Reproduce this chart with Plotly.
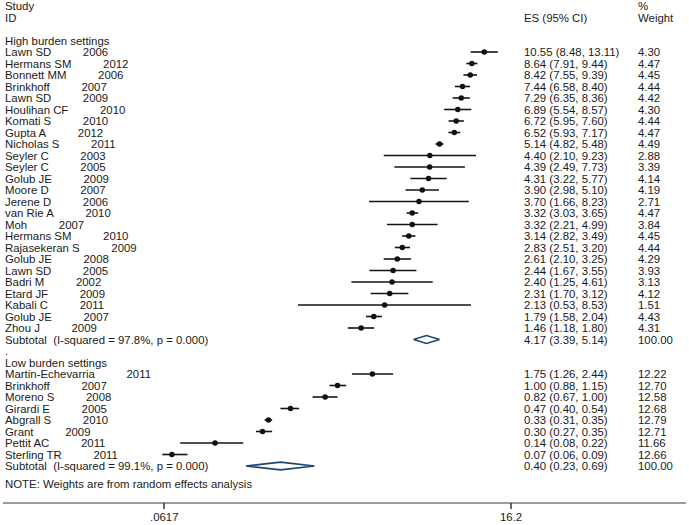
import math
import plotly.graph_objects as go

# ---------------- data ----------------
high_study = ["Lawn SD", "Hermans SM", "Bonnett MM", "Brinkhoff", "Lawn SD", "Houlihan CF",
              "Komati S", "Gupta A", "Nicholas S", "Seyler C", "Seyler C", "Golub JE",
              "Moore D", "Jerene D", "van Rie A", "Moh", "Hermans SM", "Rajasekeran S",
              "Golub JE", "Lawn SD", "Badri M", "Etard JF", "Kabali C", "Golub JE", "Zhou J"]
high_year = [2006, 2012, 2006, 2007, 2009, 2010, 2010, 2012, 2011, 2003, 2005, 2009,
             2007, 2006, 2010, 2007, 2010, 2009, 2008, 2005, 2002, 2009, 2011, 2007, 2009]
high_es = [10.55, 8.64, 8.42, 7.44, 7.29, 6.89, 6.72, 6.52, 5.14, 4.40, 4.39, 4.31,
           3.90, 3.70, 3.32, 3.32, 3.14, 2.83, 2.61, 2.44, 2.40, 2.31, 2.13, 1.79, 1.46]
high_lo = [8.48, 7.91, 7.55, 6.58, 6.35, 5.54, 5.95, 5.93, 4.82, 2.10, 2.49, 3.22,
           2.98, 1.66, 3.03, 2.21, 2.82, 2.51, 2.10, 1.67, 1.25, 1.70, 0.53, 1.58, 1.18]
high_hi = [13.11, 9.44, 9.39, 8.40, 8.36, 8.57, 7.60, 7.17, 5.48, 9.23, 7.73, 5.77,
           5.10, 8.23, 3.65, 4.99, 3.49, 3.20, 3.25, 3.55, 4.61, 3.12, 8.53, 2.04, 1.80]
high_w = [4.30, 4.47, 4.45, 4.44, 4.42, 4.30, 4.44, 4.47, 4.49, 2.88, 3.39, 4.14,
          4.19, 2.71, 4.47, 3.84, 4.45, 4.44, 4.29, 3.93, 3.13, 4.12, 1.51, 4.43, 4.31]
high_sub = {"es": 4.17, "lo": 3.39, "hi": 5.14, "w": 100.00, "i2": "97.8%", "p": "0.000"}

low_study = ["Martin-Echevarria", "Brinkhoff", "Moreno S", "Girardi E", "Abgrall S",
             "Grant", "Pettit AC", "Sterling TR"]
low_year = [2011, 2007, 2008, 2005, 2010, 2009, 2011, 2011]
low_es = [1.75, 1.00, 0.82, 0.47, 0.33, 0.30, 0.14, 0.07]
low_lo = [1.26, 0.88, 0.67, 0.40, 0.31, 0.27, 0.08, 0.06]
low_hi = [2.44, 1.15, 1.00, 0.54, 0.35, 0.35, 0.22, 0.09]
low_w = [12.22, 12.70, 12.58, 12.68, 12.79, 12.71, 11.66, 12.66]
low_sub = {"es": 0.40, "lo": 0.23, "hi": 0.69, "w": 100.00, "i2": "99.1%", "p": "0.000"}

tick_vals = [0.0617, 16.2]
tick_text = [".0617", "16.2"]

# ---------------- layout helpers ----------------
W, H = 689, 525
FONT = "Liberation Sans, Arial, sans-serif"
FS = 11.4
TXT = "#1a1a1a"
NB = "\u00a0"

# pixel geometry
row0_px, row_step = 6.0, 11.5
axis_px = 503.0
ticklab_px = 517.0
tick_px = (164.0, 511.0)
dom_px = (3.0, 686.0)

lv0, lv1 = math.log10(tick_vals[0]), math.log10(tick_vals[1])
ppd = (tick_px[1] - tick_px[0]) / (lv1 - lv0)
xr = [lv0 + (dom_px[0] - tick_px[0]) / ppd, lv0 + (dom_px[1] - tick_px[0]) / ppd]
yr = [(axis_px - row0_px) / row_step, (0 - row0_px) / row_step]


def x_to_paper(v):
    return (dom_px[0] + (math.log10(v) - xr[0]) * ppd) / W


fig = go.Figure()
ann = []


def text(xpx, row, s):
    ann.append(dict(x=xpx / W, xref="paper", y=row, yref="y", text=s, showarrow=False,
                    xanchor="left", yanchor="middle", font=dict(family=FONT, size=FS, color=TXT)))


COL_ID, COL_ES, COL_W = 3, 522, 636

text(COL_ID, 0, "Study")
text(COL_ID, 1, "ID")
text(COL_ES, 1, "ES (95% CI)")
text(COL_W, 0, "%")
text(COL_W, 1, "Weight")

ci_x, ci_y, pt_x, pt_y = [], [], [], []


def group(title, start, studies, years, es, lo, hi, w, sub):
    text(COL_ID, start, title)
    r = start + 1
    for s, yv, e, l, h, wt in zip(studies, years, es, lo, hi, w):
        text(COL_ID, r, f"{s}{NB * 10}{yv}")
        text(COL_ES, r, f"{e:.2f} ({l:.2f}, {h:.2f})")
        text(COL_W, r, f"{wt:.2f}")
        ci_x.extend([l, h, None])
        ci_y.extend([r, r, None])
        pt_x.append(e)
        pt_y.append(r)
        r += 1
    text(COL_ID, r, f"Subtotal{NB}{NB}(I-squared = {sub['i2']}, p = {sub['p']})")
    text(COL_ES, r, f"{sub['es']:.2f} ({sub['lo']:.2f}, {sub['hi']:.2f})")
    text(COL_W, r, f"{sub['w']:.2f}")
    hd = 0.34
    fig.add_trace(go.Scatter(
        x=[sub["lo"], sub["es"], sub["hi"], sub["es"], sub["lo"]],
        y=[r, r - hd, r, r + hd, r], mode="lines",
        line=dict(color="#1a476f", width=1.6), hoverinfo="skip", showlegend=False))
    return r


end_high = group("High burden settings", 3, high_study, high_year, high_es, high_lo, high_hi, high_w, high_sub)
text(COL_ID, end_high + 1.0, ".")
end_low = group("Low burden settings", end_high + 2, low_study, low_year, low_es, low_lo, low_hi, low_w, low_sub)
text(COL_ID, end_low + 1.6, "NOTE: Weights are from random effects analysis")

fig.add_trace(go.Scatter(x=ci_x, y=ci_y, mode="lines", line=dict(color="#141414", width=1.6),
                         hoverinfo="skip", showlegend=False))
fig.add_trace(go.Scatter(x=pt_x, y=pt_y, mode="markers",
                         marker=dict(symbol="circle", size=5.5, color="#111111"),
                         hoverinfo="skip", showlegend=False))

# axis line, tick marks and tick labels
shapes = [dict(type="line", xref="paper", yref="paper", x0=dom_px[0] / W, x1=dom_px[1] / W,
               y0=(H - axis_px) / H, y1=(H - axis_px) / H,
               line=dict(color="#3a3a3a", width=1.2))]
for tv, tt in zip(tick_vals, tick_text):
    xp = x_to_paper(tv)
    shapes.append(dict(type="line", xref="paper", yref="paper", x0=xp, x1=xp,
                       y0=(H - axis_px) / H, y1=(H - axis_px - 6) / H,
                       line=dict(color="#333333", width=1.5)))
    ann.append(dict(x=xp, xref="paper", y=(H - ticklab_px) / H, yref="paper", text=tt,
                    showarrow=False, xanchor="center", yanchor="middle",
                    font=dict(family=FONT, size=FS, color=TXT)))

fig.update_layout(
    width=W, height=H, margin=dict(l=0, r=0, t=0, b=0),
    paper_bgcolor="white", plot_bgcolor="white",
    annotations=ann, shapes=shapes, showlegend=False,
    xaxis=dict(type="log", range=xr, domain=[dom_px[0] / W, dom_px[1] / W],
               showticklabels=False, ticks="", showline=False,
               showgrid=False, zeroline=False),
    yaxis=dict(range=yr, domain=[(H - axis_px) / H, 1], visible=False,
               showgrid=False, zeroline=False),
)

fig.write_html("out.html", config={"displayModeBar": False},
               post_script="document.body.style.margin='0';document.body.style.overflow='hidden';")
